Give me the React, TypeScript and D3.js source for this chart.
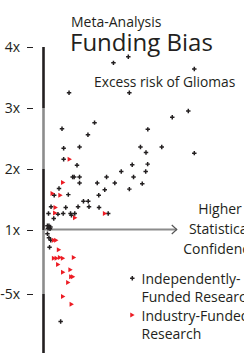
import React from 'react';
import * as d3 from 'd3';

const W = 244;
const H = 353;

// axis ticks: the scale is stepwise, each step is one labelled band
const tickValues = [4, 3, 2, 1, 0];
const tickLabels = ['4x', '3x', '2x', '1x', '-5x'];

// independently funded studies (x = statistical confidence, y = risk step)
const independentX = [
  46.3, 56.2, 100.2, 16.7, 56.9, 85.5, 96.2, 33.7, 12, 29.3, 69.2, 13.1, 23.7, 64.3, 78.5,
  68, 100.2, 13.1, 22, 58.8, 69.1, 67.8, 51.5, 19.1, 20.1, 23.7, 41.7, 59.7, 23.7, 35.5,
  47.2, 65.5, 40.5, 56.9, 10, 6.8, 16.2, 36.5, 26.3, 29.5, 4.7, 14.5, 22.7, 30, 36.7,
  3, 9.3, 12.8, 17.7, 18.3, 20.5, 42.8, 6.5, 2.3, 3.3, 4.3, 2.7, 4, 2.3, 3.3, 4.5, 3.7, 11.1,
];
const independentY = [
  3.74, 3.84, 3.64, 3.25, 3.25, 2.85, 2.95, 2.76, 2.66, 2.56, 2.65, 2.34, 2.36, 2.36, 2.36,
  2.27, 2.26, 2.16, 2.06, 2.07, 2.08, 1.96, 1.96, 1.87, 1.87, 1.87, 1.87, 1.87, 1.77, 1.77,
  1.77, 1.76, 1.66, 1.67, 1.68, 1.57, 1.58, 1.57, 1.47, 1.47, 1.38, 1.37, 1.38, 1.38, 1.37,
  1.27, 1.26, 1.27, 1.27, 1.24, 1.27, 1.27, 1.19, 1.07, 1.07, 1.05, 1.03, 1.02, 0.94, 0.88, 0.84, 0.73, -0.43,
];

// industry funded studies
const industryX = [
  16.7, 12.3, 5.3, 10.5, 7.3, 7, 20.3, 40.2, 6.2, 7.7, 9.5, 6.2, 8, 10.2, 12.2, 19.5,
  9, 17.2, 12.3, 17.7, 18.9, 15.7, 12.3, 18,
];
const industryY = [
  2.16, 1.78, 1.6, 1.57, 1.37, 1.28, 1.2, 1.27, 0.84, 0.84, 0.69, 0.56, 0.56, 0.57, 0.56, 0.57,
  0.46, 0.38, 0.34, 0.27, 0.27, 0.18, -0.04, -0.16,
];

const INK = '#231f20';
const GREY = '#8c8c8c';
const RED = '#ed1c24';
const FONT = '"Open Sans", sans-serif';

export default function App() {
  const x = d3.scaleLinear().domain([0, 100]).range([44, 194]);
  const y = d3.scaleLinear().domain([-1, 0, 1, 4]).range([358, 294, 230, 47]);

  const axisX = 43.5;
  const bandEdges = [4, 3, 2, 1, 0, y.invert(H)];
  const bands = d3.pairs(bandEdges);

  const dot = d3.symbol(d3.symbolCross, 11)() || '';
  const tri = d3.symbol(d3.symbolTriangle, 11)() || '';

  const arrowEnd = x(88.5);
  const arrowY = y(1) - 0.5;

  return (
    <svg
      width={W}
      height={H}
      style={{ position: 'absolute', left: 0, top: 0, background: '#fff' }}
      fontFamily={FONT}
    >
      {/* titles */}
      <text x={71} y={27} fontSize={14} fill={INK}>Meta-Analysis</text>
      <text x={70} y={51} fontSize={24} fill={INK}>Funding Bias</text>
      <text x={94} y={87} fontSize={13.8} fill={INK}>Excess risk of Gliomas</text>

      {/* y ticks */}
      {tickValues.map((v, i) => (
        <g key={v}>
          <text x={20} y={y(v)} dy="0.35em" textAnchor="end" fontSize={14} fill={INK}>
            {tickLabels[i]}
          </text>
          <line x1={27} x2={33} y1={y(v) + 0.5} y2={y(v) + 0.5} stroke={INK} strokeWidth={1} />
        </g>
      ))}

      {/* vertical banded axis */}
      {bands.map(([a, b], i) => (
        <line
          key={i}
          x1={axisX}
          x2={axisX}
          y1={y(a)}
          y2={y(b)}
          stroke={i % 2 === 0 ? INK : GREY}
          strokeWidth={2.6}
        />
      ))}

      {/* horizontal arrow */}
      <line x1={axisX + 1} x2={arrowEnd} y1={arrowY} y2={arrowY} stroke={GREY} strokeWidth={2} />
      <path
        d={`M${arrowEnd - 5},${arrowY - 4.5}L${arrowEnd},${arrowY}L${arrowEnd - 5},${arrowY + 4.5}`}
        fill="none"
        stroke="#555"
        strokeWidth={1.2}
      />
      <g fontSize={14} fill={INK} textAnchor="middle">
        <text x={220} y={214}>Higher</text>
        <text x={220} y={234}>Statistical</text>
        <text x={220} y={253.5}>Confidence</text>
      </g>

      {/* points */}
      {independentX.map((v, i) => (
        <path key={'b' + i} d={dot} transform={`translate(${x(v)},${y(independentY[i])})`} fill={INK} />
      ))}
      {industryX.map((v, i) => (
        <path
          key={'r' + i}
          d={tri}
          transform={`translate(${x(v)},${y(industryY[i])}) rotate(90)`}
          fill={RED}
        />
      ))}

      {/* legend */}
      <path d={dot} transform="translate(132.3,278.3)" fill={INK} />
      <text x={141.5} y={283.5} fontSize={14} fill={INK}>Independently-</text>
      <text x={141.5} y={302} fontSize={14} fill={INK}>Funded Research</text>
      <path d={tri} transform="translate(131.7,315) rotate(90)" fill={RED} />
      <text x={141.5} y={320.5} fontSize={14} fill={INK}>Industry-Funded</text>
      <text x={141.5} y={338.5} fontSize={14} fill={INK}>Research</text>
    </svg>
  );
}
